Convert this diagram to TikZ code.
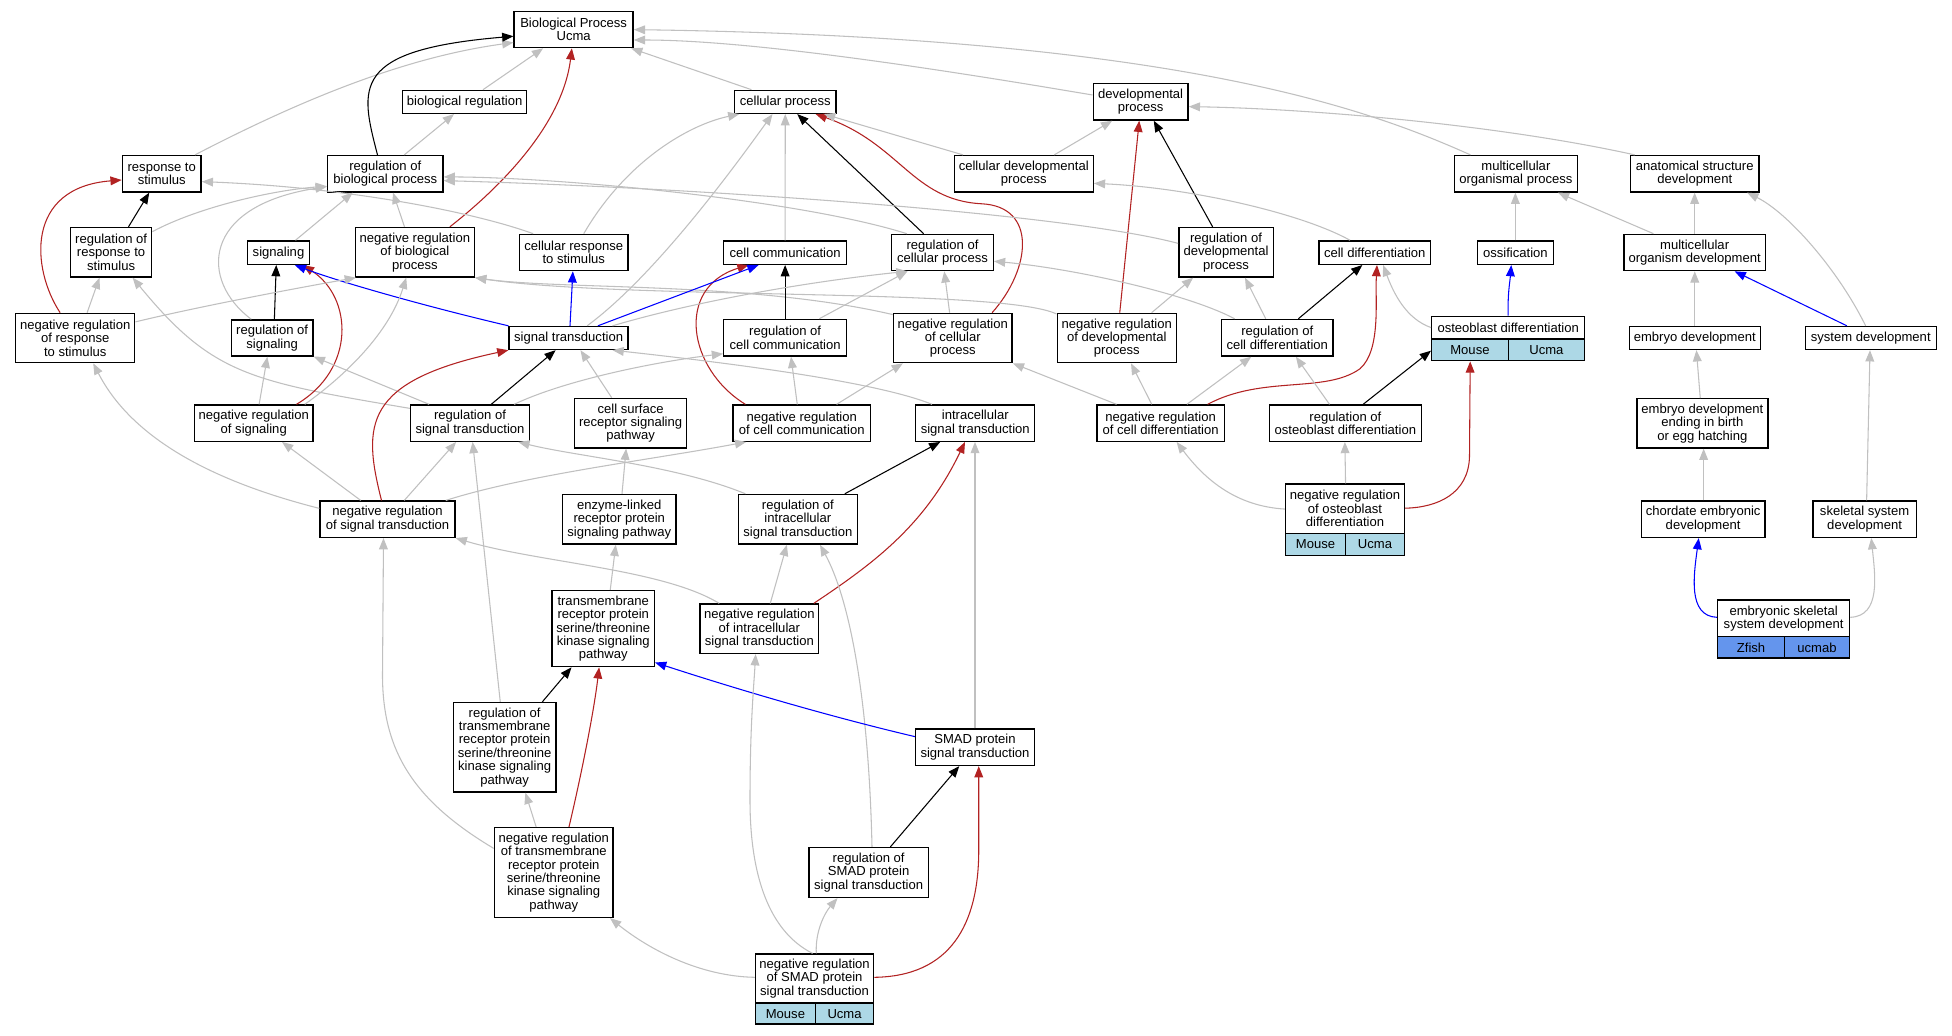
\documentclass[tikz,border=0pt]{standalone}
\usepackage{fontspec}
\setmainfont{Liberation Sans}
\usetikzlibrary{arrows.meta}
\definecolor{egray}{HTML}{C0C0C0}
\definecolor{ered}{HTML}{B22222}
\definecolor{eblue}{HTML}{0000FF}
\definecolor{lb}{HTML}{ADD8E6}
\definecolor{cfb}{HTML}{6495ED}
\newcommand{\gvfont}{\fontsize{10.45}{10.7}\selectfont}
\begin{document}
\begin{tikzpicture}[x=1pt,y=-1pt,
  box/.style={draw=black, line width=1.1pt, fill=white, inner sep=0pt, align=center, font=\gvfont},
  rec/.style={draw=black, line width=1.1pt, inner sep=0pt},
  cellL/.style={draw=black, line width=1.1pt, fill=lb, inner sep=0pt, font=\gvfont},
  cellZ/.style={draw=black, line width=1.1pt, fill=cfb, inner sep=0pt, font=\gvfont},
  edge/.style={line width=0.85pt, -{Triangle[length=9pt,width=7pt]}},
  gr/.style={edge, draw=egray},
  bk/.style={edge, draw=black},
  rd/.style={edge, draw=ered},
  bl/.style={edge, draw=eblue}]
\fill[white] (0,0) rectangle (1561.6,828);
\useasboundingbox (0,0) rectangle (1561.6,828);

% ---------- nodes ----------
\node[box,minimum width=95.2,minimum height=28.8] (bp) at (458.9,23.7) {Biological Process\\Ucma};
\node[box,minimum width=99.3,minimum height=18.4] (bioreg) at (371.7,81.5) {biological regulation};
\node[box,minimum width=80.9,minimum height=18.4] (cellproc) at (628.2,81.5) {cellular process};
\node[box,minimum width=75.9,minimum height=29] (devproc) at (912.5,81.5) {developmental\\process};
\node[box,minimum width=63,minimum height=29.1] (resp) at (129.4,139) {response to\\stimulus};
\node[box,minimum width=92.3,minimum height=29.1] (regbp) at (308.2,139) {regulation of\\biological process};
\node[box,minimum width=111.1,minimum height=29.1] (celldev) at (819,139) {cellular developmental\\process};
\node[box,minimum width=98.6,minimum height=29.1] (multiorg) at (1212.7,139) {multicellular\\organismal process};
\node[box,minimum width=102.5,minimum height=29.1] (anat) at (1355.8,139) {anatomical structure\\development};
\node[box,minimum width=65,minimum height=39.6] (regresp) at (88.9,201.8) {regulation of\\response to\\stimulus};
\node[box,minimum width=49.5,minimum height=18.7] (signaling) at (222.8,202.1) {signaling};
\node[box,minimum width=95.2,minimum height=39.6] (negregbp) at (331.9,201.8) {negative regulation\\of biological\\process};
\node[box,minimum width=86.9,minimum height=29] (cellresp) at (459,202) {cellular response\\to stimulus};
\node[box,minimum width=98.2,minimum height=18.7] (cellcomm) at (628.1,202.1) {cell communication};
\node[box,minimum width=81.2,minimum height=29] (regcp) at (754,202) {regulation of\\cellular process};
\node[box,minimum width=75.5,minimum height=39.6] (regdev) at (980.8,201.8) {regulation of\\developmental\\process};
\node[box,minimum width=89.5,minimum height=18.7] (celldiff) at (1099.8,202.1) {cell differentiation};
\node[box,minimum width=60.6,minimum height=18.7] (ossif) at (1212.3,202.1) {ossification};
\node[box,minimum width=113.3,minimum height=29] (multidev) at (1355.7,202) {multicellular\\organism development};
\node[box,minimum width=95.2,minimum height=39.4] (negresp) at (60.2,270.4) {negative regulation\\of response\\to stimulus};
\node[box,minimum width=65.4,minimum height=28.8] (regsig) at (217.7,270.4) {regulation of\\signaling};
\node[box,minimum width=95.2,minimum height=18.4] (sigtrans) at (454.9,270.4) {signal transduction};
\node[box,minimum width=98.2,minimum height=29.3] (regcc) at (628.1,270.2) {regulation of\\cell communication};
\node[box,minimum width=95,minimum height=39.4] (negcp) at (762.2,270.4) {negative regulation\\of cellular\\process};
\node[box,minimum width=95.3,minimum height=39.4] (negdev) at (893.4,270.4) {negative regulation\\of developmental\\process};
\node[box,minimum width=89,minimum height=29.3] (regcd) at (1021.8,270.2) {regulation of\\cell differentiation};
% osteoblast differentiation record
\node[cellL,minimum width=61.2,minimum height=17.3,anchor=north west] (osteoM) at (1144.8,270.7) {Mouse};
\node[cellL,minimum width=61.2,minimum height=17.3,anchor=north west] (osteoU) at (1206,270.7) {Ucma};
\node[box,minimum width=122.4,minimum height=18.2,anchor=north west] (osteoT) at (1144.8,252.5) {osteoblast differentiation};
\node[rec,minimum width=122.4,minimum height=35.5,anchor=north west] (osteo) at (1144.8,252.5) {};
\node[box,minimum width=104.8,minimum height=18.4] (embryo) at (1355.8,270.4) {embryo development};
\node[box,minimum width=104.8,minimum height=18.4] (sysdev) at (1496.6,270.4) {system development};
\node[box,minimum width=94.8,minimum height=29] (negsig) at (203,338.5) {negative regulation\\of signaling};
\node[box,minimum width=95.2,minimum height=29] (regst) at (376,338.5) {regulation of\\signal transduction};
\node[box,minimum width=89.5,minimum height=39.7] (cellsurf) at (504.5,338.5) {cell surface\\receptor signaling\\pathway};
\node[box,minimum width=110.2,minimum height=29] (negcc) at (641.4,338.5) {negative regulation\\of cell communication};
\node[box,minimum width=95.2,minimum height=29] (intra) at (780.2,338.5) {intracellular\\signal transduction};
\node[box,minimum width=101.8,minimum height=29] (negcd) at (928.5,338.5) {negative regulation\\of cell differentiation};
\node[box,minimum width=121.3,minimum height=29] (regob) at (1076.3,338.5) {regulation of\\osteoblast differentiation};
\node[box,minimum width=104.8,minimum height=39.4] (embbirth) at (1361.9,338.7) {embryo development\\ending in birth\\or egg hatching};
\node[box,minimum width=107.9,minimum height=29] (negst) at (310,415.4) {negative regulation\\of signal transduction};
\node[box,minimum width=90.5,minimum height=39.7] (enzyme) at (495.4,415.4) {enzyme-linked\\receptor protein\\signaling pathway};
\node[box,minimum width=95.2,minimum height=39.7] (regist) at (638.3,415.4) {regulation of\\intracellular\\signal transduction};
% negative regulation of osteoblast differentiation record
\node[cellL,minimum width=48,minimum height=18,anchor=north west] (negobM) at (1027.9,426) {Mouse};
\node[cellL,minimum width=47.1,minimum height=18,anchor=north west] (negobU) at (1075.9,426) {Ucma};
\node[box,minimum width=95.1,minimum height=39.3,anchor=north west] (negobT) at (1027.9,386.7) {negative regulation\\of osteoblast\\differentiation};
\node[rec,minimum width=95.1,minimum height=57.3,anchor=north west] (negob) at (1027.9,386.7) {};
\node[box,minimum width=99,minimum height=29] (chord) at (1362.5,415.4) {chordate embryonic\\development};
\node[box,minimum width=82.5,minimum height=29] (skel) at (1491.7,415.4) {skeletal system\\development};
\node[box,minimum width=81.8,minimum height=60.8] (tmrp) at (482.6,502.9) {transmembrane\\receptor protein\\serine/threonine\\kinase signaling\\pathway};
\node[box,minimum width=95,minimum height=39.5] (negist) at (607.5,503) {negative regulation\\of intracellular\\signal transduction};
% embryonic skeletal system development record
\node[cellZ,minimum width=53.4,minimum height=17.1,anchor=north west] (embskelZ) at (1373.6,508.8) {Zfish};
\node[cellZ,minimum width=52.1,minimum height=17.1,anchor=north west] (embskelU) at (1427,508.8) {ucmab};
\node[box,minimum width=105.5,minimum height=29.3,anchor=north west] (embskelT) at (1373.6,479.5) {embryonic skeletal\\system development};
\node[rec,minimum width=105.5,minimum height=46.4,anchor=north west] (embskel) at (1373.6,479.5) {};
\node[box,minimum width=82.3,minimum height=71.6] (regtm) at (403.7,597.8) {regulation of\\transmembrane\\receptor protein\\serine/threonine\\kinase signaling\\pathway};
\node[box,minimum width=95,minimum height=29.1] (smad) at (780,597.8) {SMAD protein\\signal transduction};
\node[box,minimum width=95,minimum height=71.9] (negtm) at (443,698) {negative regulation\\of transmembrane\\receptor protein\\serine/threonine\\kinase signaling\\pathway};
\node[box,minimum width=95.4,minimum height=39.9] (regsmad) at (694.9,698) {regulation of\\SMAD protein\\signal transduction};
% negative regulation of SMAD protein signal transduction record
\node[cellL,minimum width=48,minimum height=16.8,anchor=north west] (negsmadM) at (603.8,801.9) {Mouse};
\node[cellL,minimum width=46.6,minimum height=16.8,anchor=north west] (negsmadU) at (651.8,801.9) {Ucma};
\node[box,minimum width=94.6,minimum height=39.2,anchor=north west] (negsmadT) at (603.8,762.7) {negative regulation\\of SMAD protein\\signal transduction};
\node[rec,minimum width=94.6,minimum height=56,anchor=north west] (negsmad) at (603.8,762.7) {};

% ---------- edges ----------
% into Biological Process
\draw[gr] ([xshift=26.6]resp.north) .. controls (250,75) and (330,45) .. ([yshift=-10.3]bp.west);
\draw[bk] ([xshift=-6.2]regbp.north) .. controls (288,70) and (280,40) .. ([yshift=-5.3]bp.west);
\draw[gr] ([xshift=14.7]bioreg.north) -- ([xshift=-24.4]bp.south);
\draw[rd] ([xshift=28]negregbp.north) .. controls (400,150) and (450,100) .. ([xshift=-1.4]bp.south);
\draw[gr] ([xshift=-27]cellproc.north) -- ([xshift=46]bp.south);
\draw[gr] ([yshift=5.5]devproc.west) .. controls (750,55) and (600,32) .. ([yshift=-8.3]bp.east);
\draw[gr] ([xshift=-36.3]multiorg.north) .. controls (1100,90) and (950,30) .. (bp.east);
\draw[gr] ([xshift=15.2]regbp.north) -- ([xshift=-8.5]bioreg.south);
% into cellular process
\draw[gr] ([xshift=8]cellresp.north) .. controls (500,130) and (550,100) .. ([xshift=-36.7]cellproc.south);
\draw[gr] ([xshift=14.8]sigtrans.north) .. controls (525,220) and (590,130) .. ([xshift=-10.2]cellproc.south);
\draw[gr] (cellcomm.north) -- (cellproc.south);
\draw[bk] ([xshift=-15.1]regcp.north) -- ([xshift=9.6]cellproc.south);
\draw[rd] ([xshift=31.5]negcp.north) .. controls (825,215) and (830,165) .. (785,163) .. controls (730,160) and (720,115) .. ([xshift=24.3]cellproc.south);
\draw[gr] ([xshift=-48.6]celldev.north) -- ([xshift=31]cellproc.south);
% into developmental process
\draw[gr] ([xshift=24.4]celldev.north) -- ([xshift=-22.7]devproc.south);
\draw[rd] ([xshift=2.4]negdev.north) -- ([xshift=-1.1]devproc.south);
\draw[bk] ([xshift=-10.7]regdev.north) -- ([xshift=10.5]devproc.south);
\draw[gr] ([xshift=-48]anat.north) .. controls (1200,100) and (1050,87) .. ([yshift=-3.8]devproc.east);
% into response to stimulus
\draw[bk] ([xshift=13.9]regresp.north) -- ([xshift=-10]resp.south);
\draw[rd] ([xshift=-12.1]negresp.north) .. controls (25,215) and (20,150) .. ([yshift=-5]resp.west);
\draw[gr] ([xshift=-32.5]cellresp.north) .. controls (380,170) and (280,150) .. ([yshift=-6.3]resp.east);
% into regulation of biological process
\draw[gr] ([yshift=16.5]regresp.east) .. controls (160,165) and (220,152) .. ([yshift=-10]regbp.west);
\draw[gr] ([xshift=13.6]signaling.north) -- ([xshift=-26]regbp.south);
\draw[gr] ([xshift=-8.3]negregbp.north) -- ([xshift=6.2]regbp.south);
\draw[gr] ([xshift=-16.6]regsig.north) .. controls (160,225) and (160,165) .. ([yshift=-10.3]regbp.west);
\draw[gr] ([xshift=-28.5]regcp.north) .. controls (640,160) and (450,142) .. ([yshift=-2.5]regbp.east);
\draw[gr] ([yshift=7.1]regdev.west) .. controls (850,170) and (550,150) .. ([yshift=-5.5]regbp.east);
% into cellular developmental process, multicellular organismal process, anatomical structure development
\draw[gr] ([xshift=-19.8]celldiff.north) .. controls (1040,170) and (950,150) .. ([yshift=-7.7]celldev.east);
\draw[gr] (ossif.north) -- (ossif.north |- multiorg.south);
\draw[gr] ([xshift=-32.9]multidev.north) -- ([xshift=33.6]multiorg.south);
\draw[gr] (multidev.north) -- (multidev.north |- anat.south);
\draw[gr] ([xshift=-4.1]sysdev.north) .. controls (1470,215) and (1430,170) .. ([xshift=41.9]anat.south);
% into regulation of response to stimulus
\draw[gr] ([xshift=9.5]negresp.north) -- ([xshift=-9.3]regresp.south);
\draw[gr] ([yshift=11.8]regst.west) .. controls (200,305) and (170,300) .. ([xshift=17.2]regresp.south);
% into signaling
\draw[rd] ([xshift=34.2]negsig.north) .. controls (285,295) and (282,238) .. ([xshift=19.5]signaling.south);
\draw[bk] ([xshift=1.8]regsig.north) -- ([xshift=-1.8]signaling.south);
\draw[bl] (sigtrans.north west) .. controls (340,245) and (270,225) .. ([xshift=13]signaling.south);
% into negative regulation of biological process
\draw[gr] ([yshift=12.9]negresp.east) .. controls (160,245) and (240,230) .. ([xshift=1]negregbp.south west);
\draw[gr] ([xshift=40.8]negsig.north) .. controls (270,305) and (310,270) .. ([xshift=-6.9]negregbp.south);
\draw[gr] ([yshift=-1.5]negcp.north west) .. controls (600,225) and (450,232) .. (negregbp.south east);
\draw[gr] ([yshift=-1]negdev.north west) .. controls (800,230) and (500,240) .. (negregbp.south east);
% into cellular response to stimulus, cell communication, regulation of cellular process
\draw[bl] ([xshift=1.1]sigtrans.north) -- ([xshift=-0.7]cellresp.south);
\draw[bk] (regcc.north) -- (regcc.north |- cellcomm.south);
\draw[rd] ([xshift=-45.1]negcc.north) .. controls (550,295) and (540,230) .. ([xshift=-29.2]cellcomm.south);
\draw[bl] ([xshift=23.4]sigtrans.north) -- ([xshift=-21.2]cellcomm.south);
\draw[gr] ([xshift=35.1]sigtrans.north) .. controls (560,240) and (650,225) .. ([xshift=-28]regcp.south);
\draw[gr] ([xshift=27.3]regcc.north) -- ([xshift=-28]regcp.south);
\draw[gr] ([xshift=-2.5]negcp.north) -- ([xshift=1.4]regcp.south);
\draw[gr] ([xshift=-34.1]regcd.north) .. controls (950,235) and (860,215) .. ([yshift=-7]regcp.east);
% into regulation of developmental process, cell differentiation, ossification, multicellular organism development
\draw[gr] ([xshift=27.9]negdev.north) -- ([xshift=-26.3]regdev.south);
\draw[gr] ([xshift=-9.2]regcd.north) -- ([xshift=15.2]regdev.south);
\draw[bk] ([xshift=16.9]regcd.north) -- ([xshift=-9.9]celldiff.south);
\draw[rd] ([xshift=37.6]negcd.north) .. controls (1010,300) and (1060,315) .. (1088,295) .. controls (1105,280) and (1100,240) .. ([xshift=1.8]celldiff.south);
\draw[gr] ([yshift=8.75]osteo.west) .. controls (1125,255) and (1115,235) .. ([xshift=6.7]celldiff.south);
\draw[bl] (osteo.north) .. controls (1206,235) and (1208,225) .. ([xshift=-3.3]ossif.south);
\draw[gr] (embryo.north) -- (embryo.north |- multidev.south);
\draw[bl] ([xshift=-19.1]sysdev.north) -- ([xshift=32]multidev.south);
% into negative regulation of response to stimulus, regulation of signaling, signal transduction
\draw[gr] ([yshift=8.7]negst.west) .. controls (150,380) and (100,340) .. ([xshift=14.4]negresp.south);
\draw[gr] ([xshift=4.3]negsig.north) -- ([xshift=-3.8]regsig.south);
\draw[gr] ([xshift=-32.7]regst.north) -- (regsig.south east);
\draw[bk] ([xshift=17]regst.north) -- ([xshift=-10.4]sigtrans.south);
\draw[rd] ([xshift=-4.8]negst.north) .. controls (290,340) and (290,305) .. (sigtrans.south west);
\draw[gr] ([xshift=-15.2]cellsurf.north) -- ([xshift=9.5]sigtrans.south);
\draw[gr] ([xshift=-34.6]intra.north) .. controls (700,305) and (580,290) .. ([xshift=35.1]sigtrans.south);
% into regulation of cell communication, negative regulation of cellular process, etc.
\draw[gr] ([xshift=35.3]regst.north) .. controls (450,305) and (520,290) .. ([yshift=-12.8]regcc.west);
\draw[gr] ([xshift=-3.6]negcc.north) -- ([xshift=4.7]regcc.south);
\draw[gr] ([xshift=27.9]negcc.north) -- ([xshift=-39.9]negcp.south);
\draw[gr] ([xshift=-35.3]negcd.north) -- (negcp.south east);
\draw[gr] ([xshift=-7.1]negcd.north) -- ([xshift=11.4]negdev.south);
\draw[gr] ([xshift=21]negcd.north) -- ([xshift=-20.8]regcd.south);
\draw[gr] ([xshift=-12.7]regob.north) -- ([xshift=14.9]regcd.south);
\draw[bk] ([xshift=14.2]regob.north) -- ([yshift=-9.75]osteo.west);
\draw[rd] ([yshift=9.35]negob.east) .. controls (1150,406) and (1175,395) .. (1175.6,365) -- ([xshift=-30.4]osteo.south);
\draw[gr] ([xshift=-1.7]embbirth.north) -- ([xshift=1.3]embryo.south);
\draw[gr] ([xshift=1.6]skel.north) -- ([xshift=-0.6]sysdev.south);
% third band
\draw[gr] ([xshift=-21.4]negst.north) -- ([xshift=22.6]negsig.south);
\draw[gr] ([xshift=13.4]negst.north) -- ([xshift=-11.1]regst.south);
\draw[gr] ([xshift=-42]regist.north) .. controls (540,372) and (460,365) .. ([xshift=38.6]regst.south);
\draw[gr] ([xshift=-3.5]regtm.north) -- ([xshift=2.1]regst.south);
\draw[gr] ([xshift=2.2]enzyme.north) -- ([xshift=-3.6]cellsurf.south);
\draw[gr] ([xshift=46.6]negst.north) .. controls (420,380) and (520,368) .. ([xshift=-44.4]negcc.south);
\draw[bk] ([xshift=37.6]regist.north) -- ([xshift=-28]intra.south);
\draw[rd] ([xshift=43.5]negist.north) .. controls (700,450) and (740,420) .. ([xshift=-8.2]intra.south);
\draw[gr] (smad.north) -- (smad.north |- intra.south);
\draw[gr] ([yshift=8.65]negob.west) .. controls (990,405) and (965,385) .. ([xshift=12.8]negcd.south);
\draw[gr] ([xshift=0.45]negob.north) -- ([xshift=-0.4]regob.south);
\draw[gr] ([xshift=0.4]chord.north) -- ([xshift=1]embbirth.south);
% fourth band and below
\draw[gr] ([xshift=-32.1]negist.north) .. controls (530,455) and (430,450) .. (negst.south east);
\draw[gr] ([yshift=19.3]negtm.west) .. controls (330,640) and (306,600) .. (306,540) -- ([xshift=-3.2]negst.south);
\draw[gr] ([xshift=5.6]tmrp.north) -- ([xshift=-2.8]enzyme.south);
\draw[gr] ([xshift=8.7]negist.north) -- ([xshift=-8.8]regist.south);
\draw[gr] ([xshift=2.7]regsmad.north) .. controls (695,560) and (680,480) .. ([xshift=17.7]regist.south);
\draw[bl] ([yshift=9.4]embskel.west) .. controls (1350,493) and (1355,460) .. ([xshift=-3.5]chord.south);
\draw[gr] ([yshift=9.4]embskel.east) .. controls (1505,493) and (1500,460) .. ([xshift=5.3]skel.south);
\draw[bk] ([xshift=30.2]regtm.north) -- ([xshift=-25.4]tmrp.south);
\draw[rd] ([xshift=12.2]negtm.north) .. controls (465,620) and (475,570) .. ([xshift=-3.3]tmrp.south);
\draw[bl] ([yshift=8.5]smad.west) .. controls (650,570) and (570,545) .. ([yshift=-27.1]tmrp.east);
\draw[gr] ([xshift=-1.6]negsmad.north) .. controls (615,745) and (600,700) .. (600,640) .. controls (600,580) and (603,550) .. ([xshift=-3]negist.south);
\draw[gr] ([xshift=-14.1]negtm.north) -- ([xshift=16.6]regtm.south);
\draw[bk] ([xshift=17.4]regsmad.north) -- ([xshift=-12.6]smad.south);
\draw[rd] ([yshift=9.4]negsmad.east) .. controls (760,781) and (783,740) .. (783,680) -- ([xshift=3]smad.south);
\draw[gr] ([yshift=9.4]negsmad.west) .. controls (560,781) and (520,760) .. ([xshift=45]negtm.south);
\draw[gr] ([xshift=1.4]negsmad.north) .. controls (652,745) and (660,730) .. ([xshift=-24.9]regsmad.south);
\end{tikzpicture}
\end{document}
